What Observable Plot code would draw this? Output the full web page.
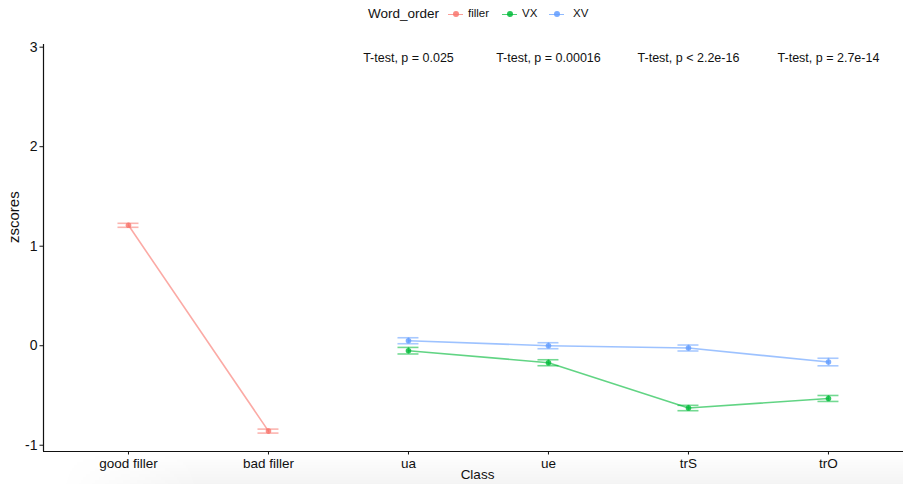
<!DOCTYPE html>
<html>
<head>
<meta charset="utf-8">
<script src="https://cdn.jsdelivr.net/npm/d3@7"></script>
<script src="https://cdn.jsdelivr.net/npm/@observablehq/plot@0.6"></script>
<style>
  html, body { margin: 0; padding: 0; background: #fff; }
  #wrap { position: relative; width: 903px; height: 484px; overflow: hidden; font-family: "Liberation Sans", Arial, Helvetica, sans-serif; }
  #legend { position: absolute; top: 0; left: 0; width: 903px; height: 28px; }
  .lg { position: absolute; white-space: nowrap; color: #111; }
  .key { position: absolute; height: 0; border-top: 1.6px solid; top: 14px; }
  .dot { position: absolute; width: 6px; height: 6px; border-radius: 50%; top: 11px; }
  #shade { position: absolute; left: 0; top: 452px; width: 903px; height: 32px; pointer-events: none;
    background: linear-gradient(to bottom, rgba(0,0,0,0) 0%, rgba(0,0,0,0.045) 100%);
    -webkit-mask-image: linear-gradient(to right, rgba(0,0,0,0) 60px, rgba(0,0,0,1) 200px);
    mask-image: linear-gradient(to right, rgba(0,0,0,0) 60px, rgba(0,0,0,1) 200px); }
</style>
</head>
<body>
<div id="wrap">
  <div id="chart"></div>
  <div id="legend"></div>
  <div id="shade"></div>
</div>
<script>
// ---- data ----
const classes = ["good filler", "bad filler", "ua", "ue", "trS", "trO"];
const groups = ["filler", "VX", "XV"];
const groupColors = ["#F8766D", "#00BA38", "#619CFF"];

const fillerClasses = ["good filler", "bad filler"];
const fillerMeans = [1.21, -0.858];
const fillerSE = [0.02, 0.02];

const expClasses = ["ua", "ue", "trS", "trO"];
const vxMeans = [-0.05, -0.171, -0.626, -0.53];
const vxSE = [0.033, 0.03, 0.027, 0.03];
const xvMeans = [0.05, 0.0, -0.023, -0.164];
const xvSE = [0.03, 0.03, 0.03, 0.038];

const testClasses = ["ua", "ue", "trS", "trO"];
const testLabels = ["T-test, p = 0.025", "T-test, p = 0.00016", "T-test, p < 2.2e-16", "T-test, p = 2.7e-14"];

const yTicks = [-1, 0, 1, 2, 3];

// ---- build table ----
const rows = [];
fillerClasses.forEach((c, i) => rows.push({cls: c, group: "filler", mean: fillerMeans[i], se: fillerSE[i]}));
expClasses.forEach((c, i) => rows.push({cls: c, group: "VX", mean: vxMeans[i], se: vxSE[i]}));
expClasses.forEach((c, i) => rows.push({cls: c, group: "XV", mean: xvMeans[i], se: xvSE[i]}));
rows.forEach(r => r.xi = classes.indexOf(r.cls));
const tests = testClasses.map((c, i) => ({xi: classes.indexOf(c), label: testLabels[i]}));

const capHalf = 0.075;
const xMin = -0.607, xMax = 5.536, yMin = -1.063, yMax = 3.027;
const color = {domain: groups, range: groupColors};

const chart = Plot.plot({
  width: 903,
  height: 484,
  marginLeft: 43,
  marginRight: 0,
  marginTop: 44,
  marginBottom: 33,
  style: {fontFamily: "'Liberation Sans', Arial, Helvetica, sans-serif", background: "transparent", color: "#111"},
  x: {type: "linear", domain: [xMin, xMax], axis: null},
  y: {domain: [yMin, yMax], axis: null},
  color,
  marks: [
    Plot.axisY({ticks: yTicks, tickFormat: d => String(d).replace("-", "-"), tickSize: 3.5, tickPadding: 2.5, fontSize: 14, label: null, stroke: "#111", fill: "#111"}),
    Plot.axisX({ticks: d3.range(classes.length), tickFormat: i => classes[i], tickSize: 3.5, tickPadding: 3, fontSize: 13.5, label: null, stroke: "#111", fill: "#111"}),
    Plot.ruleY([yMin], {stroke: "#111", strokeWidth: 1.2}),
    Plot.ruleX([xMin], {stroke: "#111", strokeWidth: 1.2}),
    Plot.line(rows, {x: "xi", y: "mean", z: "group", stroke: "group", strokeWidth: 1.6, strokeOpacity: 0.62}),
    Plot.ruleX(rows, {x: "xi", y1: d => d.mean - d.se, y2: d => d.mean + d.se, stroke: "group", strokeWidth: 1.6, strokeOpacity: 0.55}),
    Plot.ruleY(rows, {y: d => d.mean - d.se, x1: d => d.xi - capHalf, x2: d => d.xi + capHalf, stroke: "group", strokeWidth: 1.6, strokeOpacity: 0.55}),
    Plot.ruleY(rows, {y: d => d.mean + d.se, x1: d => d.xi - capHalf, x2: d => d.xi + capHalf, stroke: "group", strokeWidth: 1.6, strokeOpacity: 0.55}),
    Plot.dot(rows, {x: "xi", y: "mean", fill: "group", r: 2.8, fillOpacity: 0.8}),
    Plot.text(tests, {x: "xi", y: yMax - 0.027, text: "label", dy: 11, fontSize: 12.5, fill: "#111"}),
    Plot.text(["Class"], {frameAnchor: "bottom", text: d => d, dx: 4, dy: 27, fontSize: 13.5, fill: "#111"}),
    Plot.text(["zscores"], {frameAnchor: "left", text: d => d, dx: -29, dy: -5, rotate: -90, fontSize: 15, fill: "#111"})
  ]
});
document.getElementById("chart").appendChild(chart);

// ---- legend ----
const legend = document.getElementById("legend");
function add(html) { legend.insertAdjacentHTML("beforeend", html); }
add(`<span class="lg" style="left:368px;top:6px;font-size:13.5px;">Word_order</span>`);
const keyX = [448, 502, 549];
const labelX = [468, 522, 573];
groups.forEach((g, i) => {
  add(`<span class="key" style="left:${keyX[i]}px;width:15px;border-color:${groupColors[i]};opacity:0.7"></span>`);
  add(`<span class="dot" style="left:${keyX[i] + 4.5}px;background:${groupColors[i]};opacity:0.85"></span>`);
  add(`<span class="lg" style="left:${labelX[i]}px;top:7px;font-size:11.5px;">${g}</span>`);
});
</script>
</body>
</html>
